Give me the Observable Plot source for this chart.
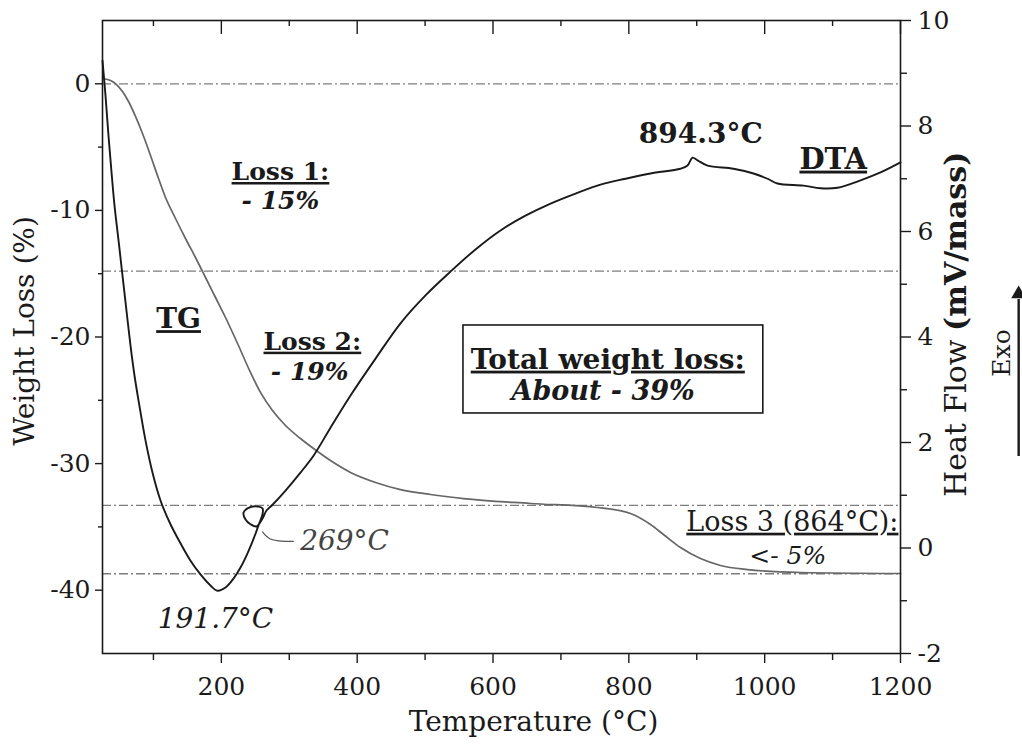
<!DOCTYPE html>
<html>
<head>
<meta charset="utf-8">
<script src="https://cdn.jsdelivr.net/npm/d3@7"></script>
<script src="https://cdn.jsdelivr.net/npm/@observablehq/plot@0.6"></script>
<style>
  body { margin: 0; background: #fff; }
  #chart { width: 1022px; height: 745px; }
</style>
</head>
<body>
<div id="chart"></div>
<script>
// ---- TG curve: temperature (°C) and weight loss (%) ----
const tgTemp = [26.5, 36.8, 45.6, 54.4, 63.3, 73.6, 83.9, 95.7, 107.5, 117.8, 132.5, 147.2, 161.9, 176.7, 191.4, 206.1, 225.2, 242.9, 257.6, 275.3, 294.5, 316.5, 335.7, 360.7, 390.2, 427.0, 463.8, 508.0, 556.5, 655.2, 753.8, 802.4, 831.9, 851.0, 876.1, 905.5, 935.0, 974.7, 1052.8, 1200];
const tgWeight = [0.4, 0.26, -0.06, -0.61, -1.40, -2.58, -3.93, -5.66, -7.48, -8.98, -10.64, -12.22, -13.72, -15.30, -16.88, -18.46, -20.67, -22.80, -24.38, -25.81, -26.99, -28.02, -28.81, -29.76, -30.70, -31.49, -32.05, -32.44, -32.76, -33.15, -33.47, -33.94, -34.81, -35.60, -36.63, -37.50, -38.05, -38.37, -38.60, -38.68];

// ---- DTA curve: temperature (°C) and heat flow (mV/mass) ----
const dtaTemp = [25.0, 29.4, 33.8, 38.3, 42.7, 48.6, 54.4, 60.3, 66.2, 72.1, 78.0, 88.3, 98.6, 110.4, 125.1, 139.8, 154.6, 169.3, 184.0, 194.3, 206.1, 217.9, 228.2, 238.5, 250.3, 254.7, 260.6, 260.6, 250.3, 238.5, 232.6, 235.6, 242.9, 251.8, 260.6, 266.5, 275.3, 294.5, 316.5, 335.7, 360.7, 390.2, 427.0, 463.8, 500.6, 537.4, 574.2, 611.0, 647.8, 684.7, 721.5, 758.3, 795.1, 831.9, 876.1, 886.4, 893.8, 901.1, 915.8, 954.1, 983.6, 1004.2, 1018.9, 1057.2, 1082.2, 1107.2, 1141.1, 1170.6, 1200.0];
const dtaHeat = [9.24, 8.58, 7.82, 7.12, 6.49, 5.83, 5.17, 4.50, 3.84, 3.27, 2.80, 2.04, 1.43, 0.90, 0.45, 0.09, -0.24, -0.50, -0.71, -0.81, -0.75, -0.58, -0.37, -0.10, 0.27, 0.43, 0.64, 0.75, 0.79, 0.75, 0.67, 0.54, 0.45, 0.41, 0.56, 0.71, 0.82, 1.09, 1.43, 1.75, 2.28, 2.89, 3.59, 4.26, 4.79, 5.24, 5.66, 6.02, 6.30, 6.53, 6.72, 6.89, 7.00, 7.10, 7.19, 7.25, 7.40, 7.35, 7.25, 7.19, 7.10, 7.00, 6.91, 6.87, 6.82, 6.83, 6.97, 7.12, 7.31];

// ---- reference (dash-dot) levels of weight loss (%) ----
const refLevels = [0, -14.8, -33.3, -38.7];

// ---- axes ----
const xDomain = [25, 1200];
const leftDomain = [-45, 5];
const rightDomain = [-2, 10];
const xMajor = [200, 400, 600, 800, 1000, 1200];
const xMinor = [100, 300, 500, 700, 900, 1100];
const leftMajor = [0, -10, -20, -30, -40];
const leftMinor = [-5, -15, -25, -35];
const rightMajor = [-2, 0, 2, 4, 6, 8, 10];
const rightMinor = [-1, 1, 3, 5, 7, 9];

// ---- annotations (temperature, weight-loss position) ----
const lossLabels = [
  {text: "Loss 1:", t: 287, w: -7.6},
  {text: "Loss 2:", t: 334, w: -21.0}
];
const tgLabel = [{text: "TG", t: 137, w: -19.3}];
const totalLabel = [{text: "Total weight loss:", t: 769, w: -22.5}];
const dtaLabel = [{text: "DTA", t: 1101, w: -6.7}];
const lossValues = [
  {text: "- 15%", t: 287, w: -9.85},
  {text: "- 19%", t: 330, w: -23.4}
];
const totalValue = [{text: "About - 39%", t: 762, w: -25.0}];
const peakNote = [{text: "894.3°C", t: 906, w: -4.7}];
const minNote = [{text: "191.7°C", t: 191.4, w: -42.95}];
const loopNote = [{text: "269°C", t: 316, w: -36.85}];
const loopLeader = [{t: 260.6, w: -35.4}, {t: 272, w: -35.95}, {t: 306, w: -36.15}];
const loss3 = [{text: "Loss 3 (864°C):", t: 1197, w: -35.3}];
const loss3b = [{text: "<- 5%", t: 1034, w: -37.9}];
const totalBox = [{t1: 556.5, t2: 998, w1: -19.09, w2: -26.04}];
const exoArrow = [{t: 1374, w1: -29.4, w2: -17.0, wTip: -16.6}];

const toLeft = v => leftDomain[0] + (v - rightDomain[0]) * (leftDomain[1] - leftDomain[0]) / (rightDomain[1] - rightDomain[0]);
const fromLeft = w => rightDomain[0] + (w - leftDomain[0]) * (rightDomain[1] - rightDomain[0]) / (leftDomain[1] - leftDomain[0]);

const tg = tgTemp.map((t, i) => ({t, w: tgWeight[i]}));
const dta = dtaTemp.map((t, i) => ({t, w: toLeft(dtaHeat[i])}));

const ink = "#1a1a1a";
const FS = 25;
const txt = (data, o) => Plot.text(data, {x: "t", y: "w", text: "text", lineAnchor: "bottom", fill: ink, ...o});

const plot = Plot.plot({
  width: 1022,
  height: 745,
  marginLeft: 102,
  marginRight: 122,
  marginTop: 20,
  marginBottom: 92,
  style: {fontFamily: "'DejaVu Serif', serif", fontSize: FS + "px", color: ink, background: "#fff"},
  x: {domain: xDomain},
  y: {domain: leftDomain},
  marks: [
    Plot.ruleY(refLevels, {stroke: "#7d7d7d", strokeWidth: 1.3, strokeDasharray: "9,3,2,3"}),
    Plot.line(tg, {x: "t", y: "w", stroke: "#666", strokeWidth: 1.7, curve: "monotone-x"}),
    Plot.line(dta, {x: "t", y: "w", stroke: ink, strokeWidth: 1.9, curve: "catmull-rom"}),
    Plot.line(loopLeader, {x: "t", y: "w", stroke: "#555", strokeWidth: 1.2, curve: "catmull-rom"}),
    Plot.rect(totalBox, {x1: "t1", x2: "t2", y1: "w1", y2: "w2", fill: "none", stroke: ink, strokeWidth: 1.6}),
    Plot.frame({stroke: ink, strokeWidth: 1.6}),
    // bottom axis
    Plot.axisX(xMajor, {anchor: "bottom", tickSize: 10, tickPadding: 14, tickFormat: d => String(d), label: null, fontSize: FS, stroke: ink, strokeWidth: 1.4}),
    Plot.axisX(xMinor, {anchor: "bottom", tickSize: 7, tickFormat: () => "", label: null, stroke: ink, strokeWidth: 1.4}),
    // top inward ticks
    Plot.axisX(xMajor, {anchor: "top", tickSize: 13, dy: 13, tickFormat: () => "", label: null, stroke: ink, strokeWidth: 1.4}),
    Plot.axisX(xMinor, {anchor: "top", tickSize: 5, dy: 5, tickFormat: () => "", label: null, stroke: ink, strokeWidth: 1.4}),
    // left axis
    Plot.axisY(leftMajor, {anchor: "left", tickSize: 7, tickPadding: 5, tickFormat: d => String(d), label: null, fontSize: FS, stroke: ink, strokeWidth: 1.4}),
    Plot.axisY(leftMinor, {anchor: "left", tickSize: 4, tickFormat: () => "", label: null, stroke: ink, strokeWidth: 1.4}),
    // right axis (heat flow)
    Plot.axisY(rightMajor.map(toLeft), {anchor: "right", tickSize: 10, tickPadding: 7, tickFormat: d => String(Math.round(fromLeft(d))), label: null, fontSize: FS, stroke: ink, strokeWidth: 1.4}),
    Plot.axisY(rightMinor.map(toLeft), {anchor: "right", tickSize: 6, tickFormat: () => "", label: null, stroke: ink, strokeWidth: 1.4}),
    // axis titles
    Plot.text(["Temperature (°C)"], {frameAnchor: "bottom", textAnchor: "middle", dx: 32, dy: 77, lineAnchor: "bottom", fontSize: 28, fill: ink}),
    Plot.text(["Weight Loss (%)"], {frameAnchor: "left", textAnchor: "middle", dx: -69, dy: -6, rotate: -90, lineAnchor: "bottom", fontSize: 28, fill: ink}),
    Plot.text(["Heat Flow"], {frameAnchor: "right", dx: 65, dy: 160, rotate: -90, textAnchor: "start", lineAnchor: "bottom", fontSize: 30, fill: ink}),
    Plot.text(["(mV/mass)"], {frameAnchor: "right", dx: 65, dy: -6, rotate: -90, textAnchor: "start", lineAnchor: "bottom", fontSize: 30, fontWeight: "bold", fill: ink}),
    Plot.text(["Exo"], {frameAnchor: "right", textAnchor: "middle", dx: 109, dy: 16, rotate: -90, lineAnchor: "bottom", fontSize: 25, fill: ink}),
    Plot.link(exoArrow, {x1: "t", x2: "t", y1: "w1", y2: "w2", stroke: ink, strokeWidth: 2.4}),
    Plot.dot(exoArrow, {x: "t", y: "wTip", symbol: "triangle", r: 5.5, fill: ink, stroke: null}),
    // annotations
    txt(lossLabels, {fontSize: 25, fontWeight: "bold"}),
    txt(tgLabel, {fontSize: 28, fontWeight: "bold"}),
    txt(totalLabel, {fontSize: 28, fontWeight: "bold"}),
    txt(dtaLabel, {fontSize: 29, fontWeight: "bold"}),
    txt(lossValues, {fontSize: 25, fontWeight: "bold", fontStyle: "italic"}),
    txt(totalValue, {fontSize: 27, fontWeight: "bold", fontStyle: "italic"}),
    txt(peakNote, {fontSize: 28, fontWeight: "bold"}),
    txt(minNote, {fontSize: 28, fontStyle: "italic"}),
    txt(loopNote, {fontSize: 28, fontStyle: "italic", textAnchor: "start", fill: "#444"}),
    txt(loss3, {fontSize: 27, textAnchor: "end"}),
    txt(loss3b, {fontSize: 25, fontStyle: "italic"})
  ]
});

const underlined = new Set(["Loss 1:", "TG", "Loss 2:", "Total weight loss:", "DTA", "Loss 3 (864°C):"]);
d3.select(plot).selectAll("text")
  .filter(function () { return underlined.has(this.textContent); })
  .style("text-decoration", "underline");

document.getElementById("chart").appendChild(plot);
</script>
</body>
</html>
